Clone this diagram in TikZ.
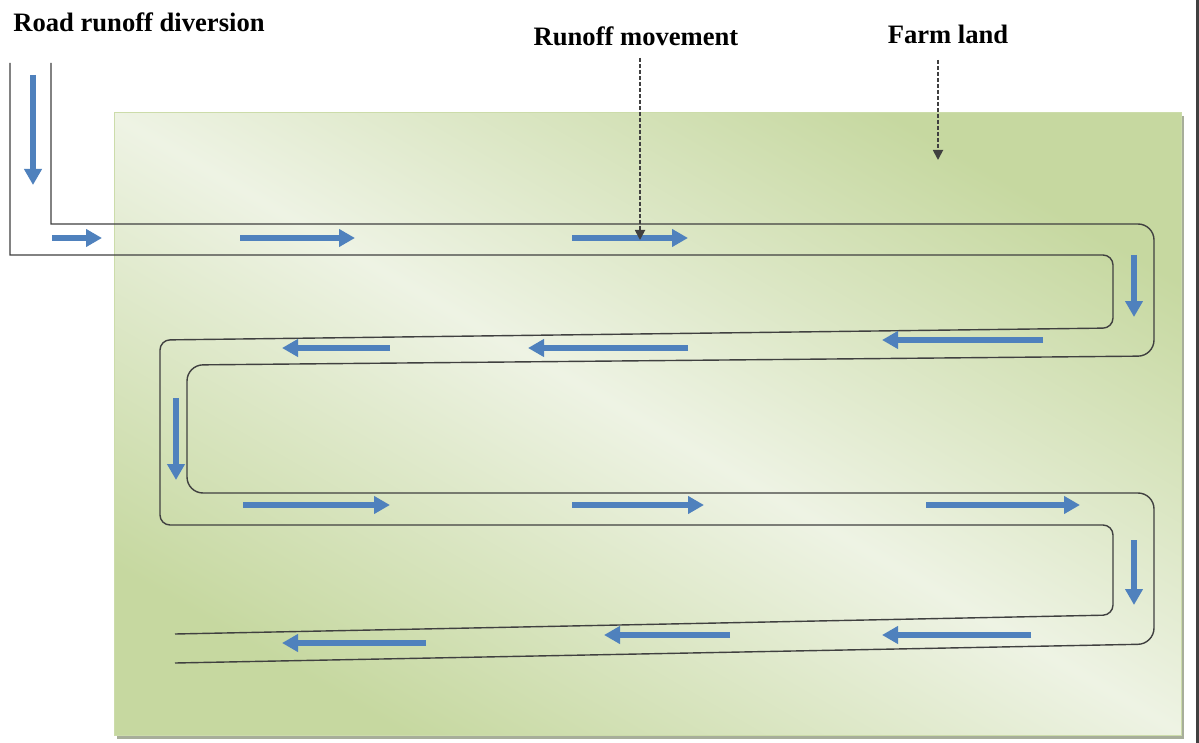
\documentclass[tikz,border=0pt]{standalone}
\usepackage{fontspec}
\setmainfont{Liberation Serif}
\usetikzlibrary{arrows.meta,calc,positioning}
\definecolor{flowblue}{HTML}{4F81BD}
\definecolor{farmgreen}{HTML}{C6D8A0}
\definecolor{farmlight}{HTML}{EEF3E4}
\definecolor{farmshadow}{HTML}{A7AE9A}
\tikzset{
  flow/.style={flowblue,line width=2.6pt,-{Triangle[length=8pt,width=8.5pt]}},
  ditch/.style={black!75,line width=0.7pt},
  note/.style={black!75,line width=0.9pt,dash pattern=on 2pt off 1pt,-{Triangle[length=5pt,width=5pt]}},
  lbl/.style={font=\bfseries\fontsize{13.3}{16}\selectfont,inner sep=0pt}
}
\begin{document}
\begin{tikzpicture}[x=0.5pt,y=-0.5pt]
    \useasboundingbox (0,0) rectangle (1199,743);
    \fill[white] (0,0) rectangle (1199,743);
    \fill[black!75] (1196,0) rectangle (1199,743);
    % farm land
    \fill[farmshadow] (117,116) rectangle (1184,739);
    \shade[left color=farmgreen,right color=farmgreen,middle color=farmlight,shading angle=-30] (114,113) rectangle (1181,735);
    \draw[farmgreen!90!white,line width=0.5pt] (114,113) rectangle (1181,735);
    % channel walls
    \draw[ditch] (51,63) -- (51,224) -- (80,224) [rounded corners=8pt] -- (1154,224) -- (1154,356)
        -- (187,365) -- (187,493) -- (1154,493) -- (1154,644) -- (175,663);
    \draw[ditch] (10,63) -- (10,255) -- (40,255) [rounded corners=5pt] -- (1113,255) -- (1113,328)
        -- (160,340) -- (160,525) -- (1113,525) -- (1113,615) -- (175,634);
    % runoff arrows
    \foreach \xa/\ya/\xb/\yb in {33/75/33/185,52/238/102/238,240/238/355/238,572/238/688/238,
        1134/255/1134/317,1043/340/882/340,688/348/528/348,390/348/282/348,
        176/398/176/480,243/505/390/505,572/505/704/505,926/505/1080/505,
        1134/540/1134/605,1031/635/882/635,730/635/604/635,426/643/282/643}
        \draw[flow] (\xa,\ya) -- (\xb,\yb);
    % labels
    \node[lbl] (roadlbl) at (139,22) {Road runoff diversion};
    \node[lbl] (movelbl) at (636,36) {Runoff movement};
    \node[lbl] (farmlbl) at (948,34) {Farm land};
    \coordinate (movetip) at (640,240);
    \coordinate (farmtip) at (938,160);
    \draw[note,shorten <=6pt] (movelbl.south -| movetip) -- (movetip);
    \draw[note,shorten <=8pt] (farmlbl.south -| farmtip) -- (farmtip);
\end{tikzpicture}
\end{document}
